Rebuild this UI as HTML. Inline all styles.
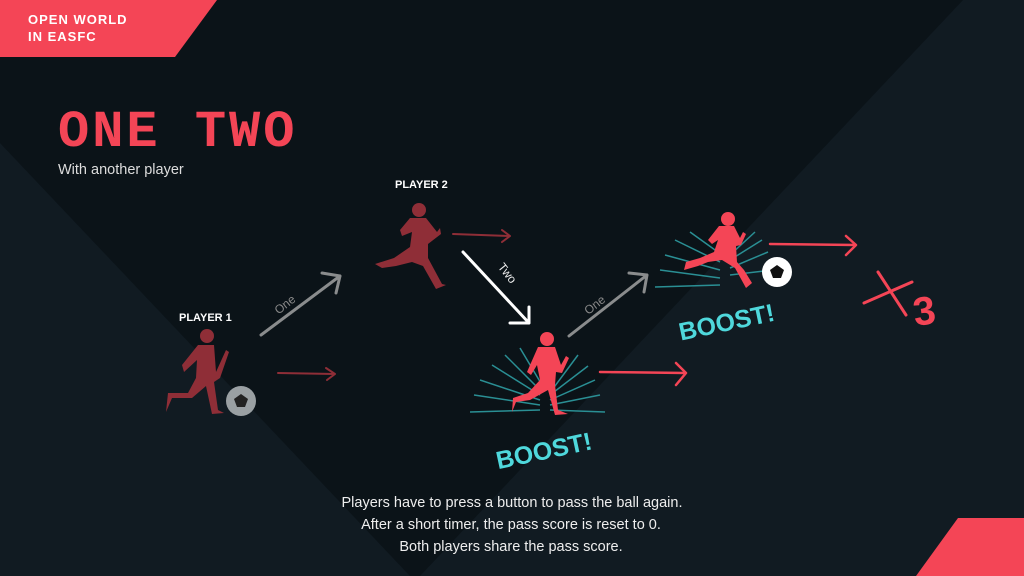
<!DOCTYPE html>
<html><head><meta charset="utf-8"><style>
html,body{margin:0;padding:0;background:#0b1318;}
svg{display:block}
</style></head><body>
<svg width="1024" height="576" viewBox="0 0 1024 576" xmlns="http://www.w3.org/2000/svg" font-family="Liberation Sans, sans-serif">
<rect width="1024" height="576" fill="#0b1318"/>
<polygon points="0,143 410,576 0,576" fill="#111b22"/>
<polygon points="963,0 1024,0 1024,576 420,576" fill="#111b22"/>
<polygon points="0,0 217,0 175,57 0,57" fill="#f44556"/>
<polygon points="958,518 1024,518 1024,576 916,576" fill="#f44556"/>
<text x="28" y="24" fill="#fff" font-size="13" font-weight="bold" letter-spacing="1">OPEN WORLD</text>
<text x="28" y="41" fill="#fff" font-size="13" font-weight="bold" letter-spacing="1">IN EASFC</text>
<text x="58" y="146" fill="#f44556" font-size="52" font-weight="bold" letter-spacing="3" font-family="Liberation Mono, monospace">ONE TWO</text>
<text x="58" y="174" fill="#ddd" font-size="14.5">With another player</text>
<text x="179" y="321" fill="#fff" font-size="11" font-weight="bold">PLAYER 1</text>
<text x="395" y="188" fill="#fff" font-size="11" font-weight="bold">PLAYER 2</text>
<g font-size="14.5" fill="#eee" text-anchor="middle">
<text x="512" y="507">Players have to press a button to pass the ball again.</text>
<text x="511" y="529">After a short timer, the pass score is reset to 0.</text>
<text x="511" y="551">Both players share the pass score.</text>
</g>
<!-- bursts -->
<g stroke="#2a8f94" stroke-width="1.5">
<line x1="540" y1="410" x2="470" y2="412"/><line x1="540" y1="405" x2="474" y2="395"/><line x1="540" y1="400" x2="480" y2="380"/><line x1="540" y1="395" x2="492" y2="365"/><line x1="540" y1="390" x2="505" y2="355"/><line x1="545" y1="390" x2="520" y2="348"/>
<line x1="550" y1="410" x2="605" y2="412"/><line x1="550" y1="405" x2="600" y2="395"/><line x1="550" y1="400" x2="595" y2="380"/><line x1="550" y1="395" x2="588" y2="366"/><line x1="552" y1="390" x2="578" y2="355"/>
<line x1="720" y1="285" x2="655" y2="287"/><line x1="720" y1="278" x2="660" y2="270"/><line x1="720" y1="270" x2="665" y2="255"/><line x1="720" y1="262" x2="675" y2="240"/><line x1="722" y1="255" x2="690" y2="232"/>
<line x1="730" y1="275" x2="772" y2="270"/><line x1="730" y1="268" x2="768" y2="252"/><line x1="730" y1="260" x2="762" y2="240"/><line x1="730" y1="255" x2="755" y2="232"/>
</g>
<!-- runners -->
<g fill="#8f2e37">
<circle cx="207" cy="336" r="7"/>
<path d="M198 345 L214 345 L216 372 L226 350 L229 352 L220 378 L214 382 L218 410 L224 413 L212 414 L206 386 L192 398 L172 398 L166 412 L168 393 L188 393 L196 378 L197 360 L184 372 L182 365 Z"/>
<circle cx="419" cy="210" r="7"/>
<path d="M410 218 L426 218 L437 232 L440 228 L441 234 L428 244 L428 258 L442 284 L446 285 L436 289 L423 266 L412 262 L396 266 L382 268 L375 264 L394 258 L410 247 L412 232 L402 236 L400 230 Z"/>
</g>
<g fill="#f44556">
<circle cx="547" cy="339" r="7"/>
<path d="M538 347 L555 347 L561 365 L566 356 L569 358 L562 373 L556 372 L555 385 L558 410 L568 414 L555 415 L548 390 L530 400 L516 402 L512 412 L513 398 L528 393 L540 380 L537 365 L531 375 L527 372 Z"/>
<circle cx="728" cy="219" r="7"/>
<path d="M719 226 L734 226 L740 238 L743 232 L746 234 L741 245 L736 246 L737 262 L744 270 L752 283 L746 288 L735 268 L722 260 L708 262 L698 266 L684 270 L686 262 L700 258 L714 252 L718 240 L712 244 L708 240 Z"/>
</g>
<!-- balls -->
<circle cx="241" cy="401" r="15" fill="#9aa0a3"/><polygon points="241,394 248,399 245,407 237,407 234,399" fill="#222"/>
<circle cx="777" cy="272" r="15" fill="#fff"/><polygon points="777,265 784,270 781,278 773,278 770,270" fill="#111"/>
<!-- arrows -->
<g fill="none" stroke-linecap="round" stroke-linejoin="round">
<path d="M278 373 L335 374 M326 368 L335 374 L327 380" stroke="#8f2e37" stroke-width="2"/>
<path d="M453 234 L510 236 M502 230 L510 236 L502 242" stroke="#8f2e37" stroke-width="2"/>
<path d="M261 335 L340 276 M322 273 L340 276 L336 293" stroke="#8a8c8d" stroke-width="3"/>
<path d="M569 336 L647 275 M629 273 L647 275 L644 292" stroke="#8a8c8d" stroke-width="3"/>
<path d="M463 252 L529 323 M529 307 L529 323 L510 323" stroke="#fff" stroke-width="3"/>
<path d="M600 372 L686 373 M676 363 L686 373 L676 385" stroke="#f44556" stroke-width="2.5"/>
<path d="M770 244 L856 245 M846 236 L856 245 L846 255" stroke="#f44556" stroke-width="2.5"/>
<path d="M864 303 L912 282 M878 272 L906 315" stroke="#f44556" stroke-width="3"/>
</g>
<text x="272" y="308" fill="#888" font-size="12" transform="rotate(-38 285 302)">One</text>
<text x="581" y="310" fill="#888" font-size="12" transform="rotate(-38 592 302)">One</text>
<text x="490" y="278" fill="#eee" font-size="12" transform="rotate(52 505 280)">Two</text>
<text x="913" y="324" fill="#f44556" font-size="40" font-weight="bold" transform="rotate(-8 928 310)">3</text>
<text x="494" y="460" fill="#4fd8dc" font-size="25" font-weight="bold" transform="rotate(-12 540 445)">BOOST!</text>
<text x="677" y="332" fill="#4fd8dc" font-size="25" font-weight="bold" transform="rotate(-12 720 318)">BOOST!</text>
</svg>
</body></html>
